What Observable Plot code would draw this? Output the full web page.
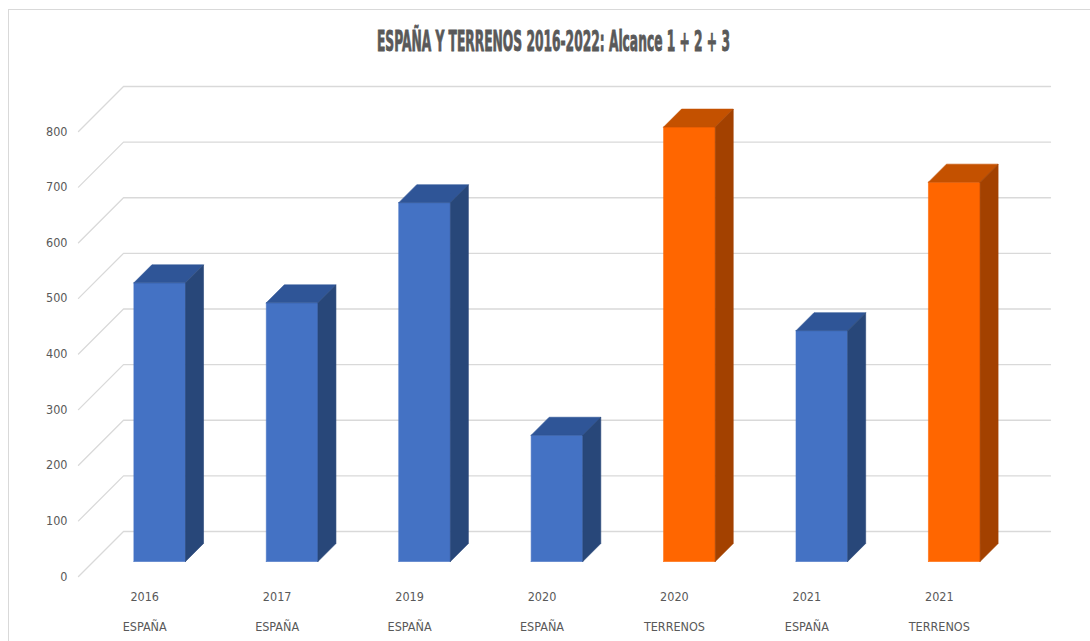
<!DOCTYPE html>
<html><head><meta charset="utf-8">
<script src="https://cdn.jsdelivr.net/npm/d3@7"></script>
<script src="https://cdn.jsdelivr.net/npm/@observablehq/plot@0.6"></script>
<style>
body{margin:0;background:#fff;}
#wrap{position:relative;width:1090px;height:641px;overflow:hidden;background:#fff;}
#border{position:absolute;left:8px;top:9px;width:1200px;height:1000px;border:1px solid #d9d9d9;box-sizing:border-box;}
#chart{position:absolute;left:0;top:0;}
#title{position:absolute;left:0;top:27px;width:1106px;text-align:center;white-space:nowrap;}
#title span{display:inline-block;font-family:"Liberation Sans Narrow","DejaVu Sans Condensed",sans-serif;font-weight:bold;font-size:29px;line-height:29px;color:#595959;-webkit-text-stroke:0.9px #595959;transform-origin:center;}
</style></head>
<body><div id="wrap"><div id="border"></div><div id="chart"></div><div id="title"><span id="tt">ESPAÑA Y TERRENOS 2016-2022: Alcance 1 + 2 + 3</span></div></div>
<script>
// ---- data ----
const years = ["2016", "2017", "2019", "2020", "2020", "2021", "2021"];
const groups = ["ESPAÑA", "ESPAÑA", "ESPAÑA", "ESPAÑA", "TERRENOS", "ESPAÑA", "TERRENOS"];
const values = [501, 465, 645, 227, 781, 415, 682];
const yTicks = [0, 100, 200, 300, 400, 500, 600, 700, 800];

// ---- style ----
const palette = {
  "ESPAÑA":   {front: "#4472C4", top: "#2F5597", side: "#284779"},
  "TERRENOS": {front: "#FF6600", top: "#C45100", side: "#A34100"}
};
const W = 1090, H = 641, ML = 78, MR = 85, MT = 131, MB = 65;
const N = years.length, YMAX = 800;
const DEPTH_PX = 45;                       // oblique depth of the 3D box
const KX = DEPTH_PX * N / (W - ML - MR);   // depth in x units
const KY = DEPTH_PX * YMAX / (H - MT - MB); // depth in y units
const BAR_W = 0.39, Z0 = 0.333, Z1 = 0.733;
const P = (x, y, z) => ({x: x + z * KX, y: y + z * KY});

// gridlines (diagonal on the side wall + horizontal on the back wall)
const grid = [];
for (const t of yTicks) {
  [P(0, t, 0), P(0, t, 1), P(N, t, 1)].forEach(p => grid.push({t, ...p}));
}

// bar faces
const faces = [];
values.forEach((v, i) => {
  const c = palette[groups[i]];
  const xl = i + 0.5 - BAR_W / 2, xr = i + 0.5 + BAR_W / 2;
  const poly = (id, color, pts) => pts.forEach(p => faces.push({id, color, ...p}));
  poly(`f${i}`, c.front, [P(xl, 0, Z0), P(xr, 0, Z0), P(xr, v, Z0), P(xl, v, Z0), P(xl, 0, Z0)]);
  poly(`t${i}`, c.top, [P(xl, v, Z0), P(xr, v, Z0), P(xr, v, Z1), P(xl, v, Z1), P(xl, v, Z0)]);
  poly(`s${i}`, c.side, [P(xr, 0, Z0), P(xr, 0, Z1), P(xr, v, Z1), P(xr, v, Z0), P(xr, 0, Z0)]);
});

const cats = years.map((y, i) => ({i, year: y, group: groups[i]}));
const FONT = '"Liberation Sans Narrow","DejaVu Sans Condensed",sans-serif';

const chart = Plot.plot({
  width: W, height: H,
  marginLeft: ML, marginRight: MR, marginTop: MT, marginBottom: MB,
  x: {domain: [0, N], axis: null},
  y: {domain: [0, YMAX], axis: null},
  color: {type: "identity"},
  style: {fontFamily: FONT, background: "transparent", overflow: "visible"},
  marks: [
    Plot.line(grid, {x: "x", y: "y", z: "t", stroke: "#d9d9d9", strokeWidth: 1.3}),
    Plot.line(faces, {x: "x", y: "y", z: "id", fill: "color", stroke: "color", strokeWidth: 0.6}),
    Plot.text(yTicks, {x: 0, y: d => d, text: d => String(d), textAnchor: "end", dx: -11, fontSize: 12.5, fill: "#595959"}),
    Plot.text(cats, {x: d => d.i + 0.5, y: 0, text: "year", dy: 20, fontSize: 12.5, fill: "#595959"}),
    Plot.text(cats, {x: d => d.i + 0.5, y: 0, text: "group", dy: 50, fontSize: 12.5, fill: "#595959"})
  ]
});
document.getElementById("chart").appendChild(chart);

const tt = document.getElementById("tt");
const natural = tt.offsetWidth;
tt.style.transform = `scaleX(${353 / natural})`;
</script>
</body></html>
